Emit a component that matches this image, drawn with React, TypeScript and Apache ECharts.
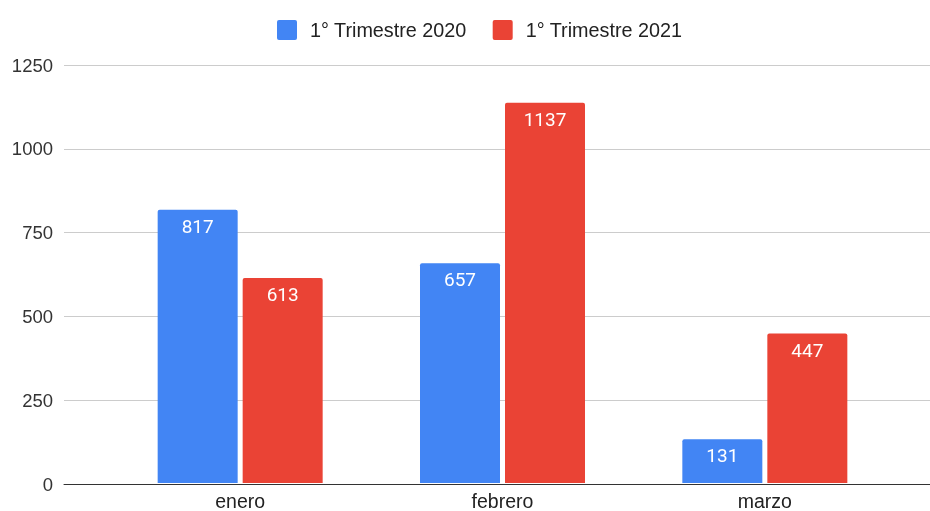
import React, { useEffect, useRef } from "react";
import * as echarts from "echarts";

const categories = ["enero", "febrero", "marzo"];
const seriesNames = ["1° Trimestre 2020", "1° Trimestre 2021"];
const values2020 = [817, 657, 131];
const values2021 = [613, 1137, 447];
const yTicks = [0, 250, 500, 750, 1000, 1250];

const SANS = "Arial, 'Liberation Sans', sans-serif";
const ROBOTO = "Roboto, Arial, sans-serif";
const LEGEND_ICON =
  "path://M2,0H18A2,2 0 0 1 20,2V18A2,2 0 0 1 18,20H2A2,2 0 0 1 0,18V2A2,2 0 0 1 2,0Z";

export default function App() {
  const ref = useRef<HTMLDivElement>(null);
  useEffect(() => {
    if (!ref.current) return;
    const chart = echarts.init(ref.current, undefined, { renderer: "svg" });
    const yMax = yTicks[yTicks.length - 1];
    const yInterval = yTicks[1] - yTicks[0];
    const top = 65;
    const bottom = 27;
    const barLabel = {
      show: true,
      position: "insideTop" as const,
      distance: 7,
      color: "#ffffff",
      fontSize: 19,
      fontFamily: ROBOTO,
    };
    chart.setOption({
      animation: false,
      textStyle: { fontFamily: SANS },
      legend: {
        top: 15,
        left: 272,
        itemWidth: 20,
        itemHeight: 20,
        itemGap: 26,
        icon: LEGEND_ICON,
        textStyle: { fontSize: 19.8, color: "#222", fontFamily: SANS, padding: [0, 0, 0, 8] },
        data: seriesNames,
      },
      grid: [
        { left: 64, right: 0, top, bottom },
        { left: 109, right: 34, top, bottom },
      ],
      xAxis: [
        {
          type: "category",
          gridIndex: 0,
          data: categories,
          axisLine: { lineStyle: { color: "#333", width: 1 } },
          axisTick: { show: false },
          axisLabel: { show: false },
        },
        {
          type: "category",
          gridIndex: 1,
          data: categories,
          axisLine: { show: false },
          axisTick: { show: false },
          axisLabel: { fontSize: 19.5, color: "#222", fontFamily: SANS, margin: 8 },
        },
      ],
      yAxis: [
        {
          type: "value",
          gridIndex: 0,
          min: 0,
          max: yMax,
          interval: yInterval,
          axisLine: { show: false },
          axisTick: { show: false },
          axisLabel: {
            fontSize: 18.5,
            color: "#333",
            fontFamily: SANS,
            margin: 11,
            formatter: (v: number) => String(v),
          },
          splitLine: { lineStyle: { color: "#cccccc", width: 1 } },
        },
        {
          type: "value",
          gridIndex: 1,
          min: 0,
          max: yMax,
          interval: yInterval,
          show: false,
          splitLine: { show: false },
        },
      ],
      series: [
        {
          name: seriesNames[0],
          type: "bar",
          xAxisIndex: 1,
          yAxisIndex: 1,
          data: values2020,
          barWidth: 80,
          barGap: "6.25%",
          itemStyle: { color: "#4285F4", borderRadius: [2, 2, 0, 0] },
          label: barLabel,
        },
        {
          name: seriesNames[1],
          type: "bar",
          xAxisIndex: 1,
          yAxisIndex: 1,
          data: values2021,
          barWidth: 80,
          barGap: "6.25%",
          itemStyle: { color: "#EA4335", borderRadius: [2, 2, 0, 0] },
          label: barLabel,
        },
      ],
    });
    return () => chart.dispose();
  }, []);
  return (
    <div
      ref={ref}
      style={{ position: "fixed", left: 0, top: 0, width: 930, height: 511 }}
    />
  );
}
